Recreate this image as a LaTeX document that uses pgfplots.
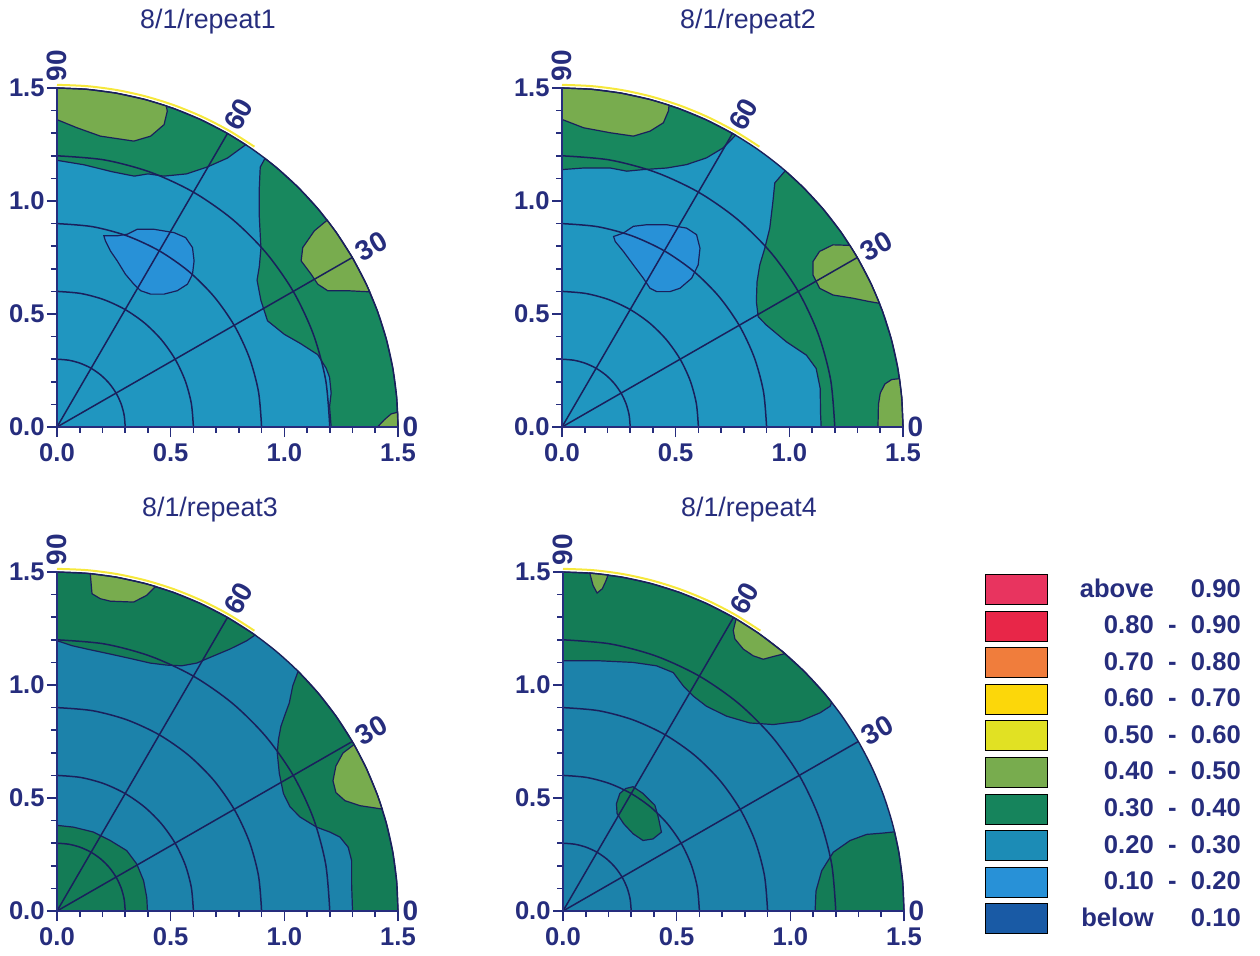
\documentclass[border=0pt]{standalone}
\usepackage{pgfplots}
\pgfplotsset{compat=1.18}
\usepgfplotslibrary{polar}
\usepackage{fontspec}
\setmainfont{Liberation Sans}

\definecolor{ink}{RGB}{38,45,125}
\definecolor{rule}{RGB}{26,32,92}
\definecolor{rimglow}{RGB}{246,232,60}
% contour levels
\definecolor{lvA}{RGB}{232,52,95}   % above 0.90
\definecolor{lvB}{RGB}{232,38,72}   % 0.80 - 0.90
\definecolor{lvC}{RGB}{240,125,60}  % 0.70 - 0.80
\definecolor{lvD}{RGB}{252,215,10}  % 0.60 - 0.70
\definecolor{lvE}{RGB}{225,225,35}  % 0.50 - 0.60
\definecolor{lvF}{RGB}{120,172,78}  % 0.40 - 0.50
\definecolor{lvG}{RGB}{22,132,92}   % 0.30 - 0.40
\definecolor{lvH}{RGB}{28,140,182}  % 0.20 - 0.30
\definecolor{lvI}{RGB}{40,145,215}  % 0.10 - 0.20
\definecolor{lvJ}{RGB}{25,90,165}   % below 0.10
\definecolor{tealtop}{RGB}{32,150,192}
\definecolor{greentop}{RGB}{24,136,94}
\definecolor{tealbot}{RGB}{28,130,170}
\definecolor{greenbot}{RGB}{20,124,86}
\colorlet{curteal}{tealtop}
\colorlet{curgreen}{greentop}

\tikzset{
  bgzone/.style={draw=none, fill=curteal},
  gzone/.style={fill=curgreen, draw=rule, line width=0.6pt},
  hzone/.style={fill=lvF, draw=rule, line width=0.6pt},
  bzone/.style={fill=lvI, draw=rule, line width=0.6pt},
  gridl/.style={draw=rule, line width=0.75pt},
  anglab/.style={font=\bfseries\fontsize{14}{16}\selectfont, text=ink, inner sep=1.5pt},
  ttl/.style={font=\fontsize{13.4}{15}\selectfont, text=ink, anchor=base},
}

\pgfplotsset{
  quad/.style={
    scale only axis, width=170.5pt, height=169.5pt,
    xmin=0, xmax=1.5, ymin=0, ymax=1.5,
    axis lines=left, axis line style={-, draw=ink, line width=1.1pt},
    clip=false, axis on top,
    xtick={0,0.5,1,1.5}, ytick={0,0.5,1,1.5},
    xticklabels={0.0,0.5,1.0,1.5}, yticklabels={0.0,0.5,1.0,1.5},
    minor tick num=4,
    tick align=outside,
    major tick length=5pt, minor tick length=3pt,
    every tick/.style={draw=ink, line width=0.8pt},
    tick label style={font=\bfseries\fontsize{12.8}{15}\selectfont, text=ink, inner sep=1pt},
    xticklabel style={yshift=-2pt},
    /pgf/number format/assume math mode=true,
  },
}

% quarter disk filled with the 0.20-0.30 band
\newcommand{\quadbase}{%
  \addplot[bgzone] coordinates {(0,0)(1.5,0)(1.4943,0.1307)(1.4772,0.2605)(1.4489,0.3882)(1.4095,0.5130)(1.3595,0.6339)(1.2990,0.7500)(1.2287,0.8604)(1.1491,0.9642)(1.0607,1.0607)(0.9642,1.1491)(0.8604,1.2287)(0.7500,1.2990)(0.6339,1.3595)(0.5130,1.4095)(0.3882,1.4489)(0.2605,1.4772)(0.1307,1.4943)(0,1.5)} --cycle;
}

% polar grid, rim and angle labels
\newcommand{\quadgrid}{%
  \addplot[gridl, data cs=polar, smooth] coordinates {(0,0.3)(10,0.3)(20,0.3)(30,0.3)(40,0.3)(50,0.3)(60,0.3)(70,0.3)(80,0.3)(90,0.3)};
  \addplot[gridl, data cs=polar, smooth] coordinates {(0,0.6)(10,0.6)(20,0.6)(30,0.6)(40,0.6)(50,0.6)(60,0.6)(70,0.6)(80,0.6)(90,0.6)};
  \addplot[gridl, data cs=polar, smooth] coordinates {(0,0.9)(10,0.9)(20,0.9)(30,0.9)(40,0.9)(50,0.9)(60,0.9)(70,0.9)(80,0.9)(90,0.9)};
  \addplot[gridl, data cs=polar, smooth] coordinates {(0,1.2)(10,1.2)(20,1.2)(30,1.2)(40,1.2)(50,1.2)(60,1.2)(70,1.2)(80,1.2)(90,1.2)};
  \addplot[gridl, data cs=polar] coordinates {(30,0)(30,1.5)};
  \addplot[gridl, data cs=polar] coordinates {(60,0)(60,1.5)};
  \addplot[draw=rimglow, line width=1pt, data cs=polar, smooth] coordinates {(55,1.514)(60,1.514)(65,1.514)(70,1.514)(75,1.514)(80,1.514)(85,1.514)(90,1.514)};
  \addplot[draw=rule, line width=0.7pt, data cs=polar, smooth] coordinates {(0,1.5)(5,1.5)(10,1.5)(15,1.5)(20,1.5)(25,1.5)(30,1.5)(35,1.5)(40,1.5)(45,1.5)(50,1.5)(55,1.5)(60,1.5)(65,1.5)(70,1.5)(75,1.5)(80,1.5)(85,1.5)(90,1.5)};
  \node[anglab, rotate=90, anchor=west] at (axis cs:0,1.515) {90};
  \node[anglab, rotate=60, anchor=west] at (axis cs:0.757,1.311) {60};
  \node[anglab, rotate=30, anchor=west] at (axis cs:1.311,0.757) {30};
  \node[anglab, anchor=west] at (axis cs:1.505,0) {0};
}

\newcommand{\lgd}[3]{\makebox[37.5pt][r]{#1}\makebox[18.5pt][c]{#2}\makebox[25pt][r]{#3}}

\begin{document}
\begin{tikzpicture}
\path[use as bounding box] (0,0) rectangle (630pt,477.5pt);

% ---------------- repeat 1 ----------------
\colorlet{curteal}{tealtop}\colorlet{curgreen}{greentop}
\begin{axis}[quad, at={(28.5pt,264pt)}, anchor=south west]
\quadbase
\addplot[gzone] coordinates {(0,1.18)(0.12,1.16)(0.24,1.13)(0.34,1.11)(0.40,1.12)(0.47,1.11)(0.57,1.12)(0.66,1.15)(0.75,1.19)(0.830,1.249)(0.7500,1.2990)(0.6339,1.3595)(0.5130,1.4095)(0.3882,1.4489)(0.2605,1.4772)(0.1307,1.4943)(0,1.5)} --cycle;
\addplot[gzone] coordinates {(0.9151,1.1884)(0.894,1.15)(0.89,1.06)(0.89,0.93)(0.897,0.79)(0.89,0.71)(0.88,0.65)(0.897,0.56)(0.926,0.47)(1.0,0.41)(1.07,0.37)(1.147,0.32)(1.184,0.26)(1.199,0.22)(1.206,0.15)(1.199,0.09)(1.206,0)(1.5,0)(1.4943,0.1307)(1.4772,0.2605)(1.4489,0.3882)(1.4095,0.5130)(1.3595,0.6339)(1.2990,0.7500)(1.2287,0.8604)(1.1491,0.9642)(1.0607,1.0607)(0.9642,1.1491)} --cycle;
\addplot[hzone] coordinates {(0,1.5)(0,1.36)(0.088,1.324)(0.191,1.287)(0.338,1.265)(0.412,1.287)(0.471,1.338)(0.485,1.397)(0.4809,1.4208)(0.3882,1.4489)(0.2605,1.4772)(0.1307,1.4943)} --cycle;
\addplot[hzone] coordinates {(1.1885,0.9151)(1.132,0.868)(1.081,0.794)(1.074,0.735)(1.118,0.676)(1.147,0.632)(1.191,0.603)(1.279,0.603)(1.3756,0.5981)(1.3595,0.6339)(1.2990,0.7500)(1.2287,0.8604)} --cycle;
\addplot[hzone] coordinates {(1.41,0)(1.44,0.032)(1.47,0.058)(1.4986,0.0654)(1.5,0)} --cycle;
\addplot[bzone] coordinates {(0.206,0.846)(0.265,0.846)(0.309,0.853)(0.353,0.875)(0.426,0.875)(0.515,0.860)(0.566,0.838)(0.596,0.794)(0.603,0.735)(0.596,0.676)(0.574,0.632)(0.529,0.603)(0.471,0.588)(0.412,0.588)(0.368,0.603)(0.338,0.632)(0.301,0.676)(0.265,0.735)(0.235,0.779)(0.213,0.824)} --cycle;
\quadgrid
\end{axis}

% ---------------- repeat 2 ----------------
\begin{axis}[quad, at={(281pt,264pt)}, anchor=south west]
\quadbase
\addplot[gzone] coordinates {(0,1.139)(0.095,1.146)(0.212,1.146)(0.285,1.132)(0.358,1.139)(0.461,1.146)(0.548,1.161)(0.636,1.191)(0.709,1.235)(0.7637,1.2910)(0.7500,1.2990)(0.6339,1.3595)(0.5130,1.4095)(0.3882,1.4489)(0.2605,1.4772)(0.1307,1.4943)(0,1.5)} --cycle;
\addplot[gzone] coordinates {(0.9820,1.1338)(0.936,1.080)(0.928,0.999)(0.914,0.880)(0.892,0.791)(0.870,0.717)(0.858,0.643)(0.855,0.555)(0.863,0.488)(0.899,0.451)(0.987,0.377)(1.075,0.318)(1.118,0.259)(1.136,0.170)(1.137,0.067)(1.140,0)(1.5,0)(1.4943,0.1307)(1.4772,0.2605)(1.4489,0.3882)(1.4095,0.5130)(1.3595,0.6339)(1.2990,0.7500)(1.2287,0.8604)(1.1491,0.9642)(1.0607,1.0607)} --cycle;
\addplot[hzone] coordinates {(0,1.5)(0,1.361)(0.095,1.324)(0.212,1.302)(0.314,1.287)(0.387,1.309)(0.446,1.346)(0.468,1.398)(0.4710,1.4241)(0.3882,1.4489)(0.2605,1.4772)(0.1307,1.4943)} --cycle;
\addplot[hzone] coordinates {(1.2664,0.8037)(1.192,0.806)(1.133,0.777)(1.104,0.732)(1.104,0.673)(1.133,0.614)(1.192,0.584)(1.279,0.570)(1.352,0.555)(1.3966,0.5473)(1.3595,0.6339)(1.2990,0.7500)} --cycle;
\addplot[hzone] coordinates {(1.390,0)(1.392,0.10)(1.40,0.15)(1.42,0.19)(1.45,0.21)(1.4847,0.2139)(1.4943,0.1307)(1.5,0)} --cycle;
\addplot[bzone] coordinates {(0.227,0.843)(0.270,0.858)(0.314,0.888)(0.373,0.895)(0.461,0.895)(0.548,0.880)(0.592,0.851)(0.607,0.791)(0.599,0.717)(0.570,0.658)(0.519,0.614)(0.475,0.599)(0.417,0.599)(0.387,0.614)(0.358,0.658)(0.314,0.717)(0.270,0.777)(0.234,0.821)} --cycle;
\quadgrid
\end{axis}

% ---------------- repeat 3 ----------------
\colorlet{curteal}{tealbot}\colorlet{curgreen}{greenbot}
\begin{axis}[quad, at={(28.5pt,22pt)}, anchor=south west]
\quadbase
\addplot[gzone] coordinates {(0,0)(0,0.379)(0.073,0.371)(0.161,0.349)(0.234,0.312)(0.307,0.267)(0.351,0.208)(0.381,0.134)(0.395,0.059)(0.398,0)} --cycle;
\addplot[gzone] coordinates {(0,1.196)(0.066,1.174)(0.132,1.159)(0.234,1.137)(0.337,1.114)(0.410,1.097)(0.483,1.088)(0.549,1.085)(0.615,1.097)(0.673,1.122)(0.761,1.159)(0.835,1.196)(0.8710,1.2212)(0.8604,1.2287)(0.7500,1.2990)(0.6339,1.3595)(0.5130,1.4095)(0.3882,1.4489)(0.2605,1.4772)(0.1307,1.4943)(0,1.5)} --cycle;
\addplot[gzone] coordinates {(1.0607,1.0607)(1.037,0.996)(1.022,0.921)(1.003,0.869)(0.985,0.817)(0.974,0.758)(0.969,0.698)(0.978,0.609)(0.996,0.520)(1.025,0.461)(1.069,0.416)(1.142,0.371)(1.201,0.349)(1.245,0.327)(1.281,0.282)(1.296,0.223)(1.296,0.119)(1.300,0)(1.5,0)(1.4943,0.1307)(1.4772,0.2605)(1.4489,0.3882)(1.4095,0.5130)(1.3595,0.6339)(1.2990,0.7500)(1.2287,0.8604)(1.1491,0.9642)} --cycle;
\addplot[hzone] coordinates {(0.1464,1.4928)(0.154,1.404)(0.190,1.382)(0.234,1.371)(0.337,1.367)(0.395,1.397)(0.4335,1.4360)(0.3882,1.4489)(0.2605,1.4772)} --cycle;
\addplot[hzone] coordinates {(1.3068,0.7364)(1.258,0.699)(1.227,0.642)(1.214,0.576)(1.227,0.524)(1.267,0.488)(1.333,0.466)(1.4306,0.4511)(1.4095,0.5130)(1.3595,0.6339)} --cycle;
\quadgrid
\end{axis}

% ---------------- repeat 4 ----------------
\begin{axis}[quad, at={(281.5pt,22pt)}, anchor=south west]
\quadbase
\addplot[gzone] coordinates {(0,1.107)(0.162,1.107)(0.308,1.100)(0.411,1.085)(0.485,1.055)(0.529,0.996)(0.573,0.951)(0.631,0.906)(0.720,0.862)(0.822,0.832)(0.925,0.825)(1.043,0.840)(1.131,0.877)(1.175,0.906)(1.1820,0.9235)(1.1491,0.9642)(1.0607,1.0607)(0.9642,1.1491)(0.8604,1.2287)(0.7500,1.2990)(0.6339,1.3595)(0.5130,1.4095)(0.3882,1.4489)(0.2605,1.4772)(0.1307,1.4943)(0,1.5)} --cycle;
\addplot[gzone] coordinates {(0.250,0.520)(0.276,0.542)(0.308,0.550)(0.352,0.520)(0.404,0.468)(0.419,0.416)(0.433,0.349)(0.396,0.319)(0.352,0.312)(0.308,0.342)(0.267,0.386)(0.238,0.431)(0.235,0.475)} --cycle;
\addplot[gzone] coordinates {(1.109,0)(1.113,0.089)(1.138,0.178)(1.189,0.260)(1.263,0.312)(1.336,0.339)(1.410,0.345)(1.4586,0.3502)(1.4772,0.2605)(1.4943,0.1307)(1.5,0)} --cycle;
\addplot[hzone] coordinates {(0.1177,1.4954)(0.132,1.441)(0.150,1.407)(0.173,1.426)(0.188,1.459)(0.1984,1.4868)} --cycle;
\addplot[hzone] coordinates {(0.7613,1.2924)(0.749,1.241)(0.756,1.204)(0.793,1.159)(0.837,1.129)(0.881,1.114)(0.925,1.126)(0.9762,1.1389)(0.9642,1.1491)(0.8604,1.2287)} --cycle;
\quadgrid
\end{axis}

% ---------------- legend ----------------
\begin{axis}[
  at={(492.5pt,190.5pt)}, anchor=north west,
  hide axis, scale only axis, width=10pt, height=10pt,
  xmin=0, xmax=1, ymin=0, ymax=1,
  legend style={at={(0,1)}, anchor=north west, draw=none, fill=none,
    inner sep=0pt, outer sep=0pt, row sep=2.9pt, column sep=15.5pt,
    nodes={inner sep=0pt, font=\bfseries\fontsize{12.8}{15}\selectfont, text=ink}},
  legend cell align=left,
  legend image code/.code={\fill[#1] (0pt,-7.5pt) rectangle (31pt,7.5pt);},
]
\addlegendimage{fill=lvA}\addlegendentry{\lgd{above}{}{0.90}}
\addlegendimage{fill=lvB}\addlegendentry{\lgd{0.80}{-}{0.90}}
\addlegendimage{fill=lvC}\addlegendentry{\lgd{0.70}{-}{0.80}}
\addlegendimage{fill=lvD}\addlegendentry{\lgd{0.60}{-}{0.70}}
\addlegendimage{fill=lvE}\addlegendentry{\lgd{0.50}{-}{0.60}}
\addlegendimage{fill=lvF}\addlegendentry{\lgd{0.40}{-}{0.50}}
\addlegendimage{fill=lvG}\addlegendentry{\lgd{0.30}{-}{0.40}}
\addlegendimage{fill=lvH}\addlegendentry{\lgd{0.20}{-}{0.30}}
\addlegendimage{fill=lvI}\addlegendentry{\lgd{0.10}{-}{0.20}}
\addlegendimage{fill=lvJ}\addlegendentry{\lgd{below}{}{0.10}}
\end{axis}

% panel titles
\node[ttl] at (104pt,463pt) {8/1/repeat1};
\node[ttl] at (374pt,463pt) {8/1/repeat2};
\node[ttl] at (105pt,219pt) {8/1/repeat3};
\node[ttl] at (374.5pt,219pt) {8/1/repeat4};
\end{tikzpicture}
\end{document}
